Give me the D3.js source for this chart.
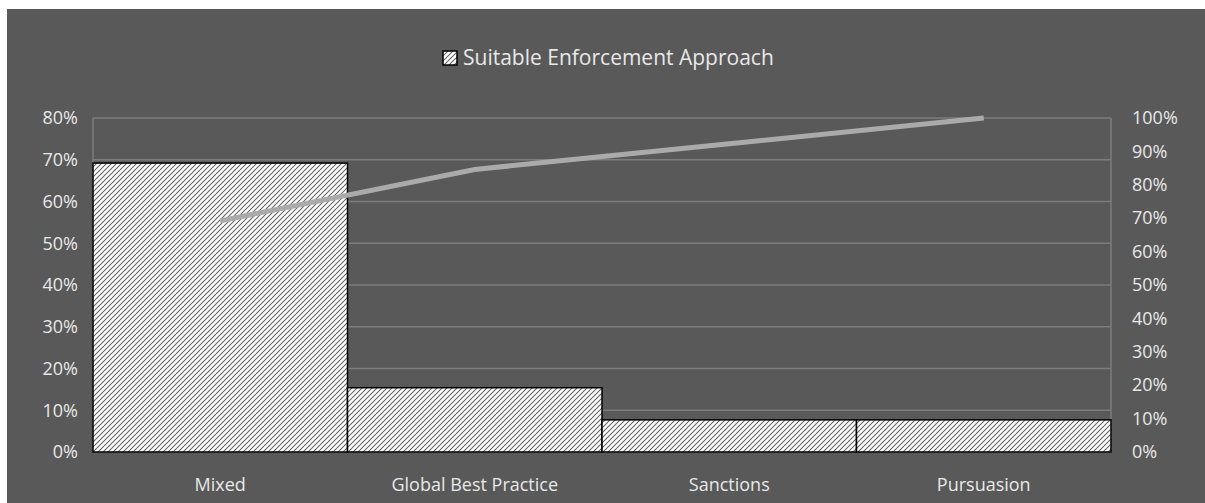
<!DOCTYPE html>
<html>
<head>
  <script src="https://d3js.org/d3.v7.min.js"></script>
  <style>
    body { margin: 0; background: #fff; }
    text { font-family: "Open Sans", sans-serif; fill: #e8e8e8; }
  </style>
</head>
<body>
  <svg id="canvas" width="1205" height="503"></svg>
  <script>
    const categories = ["Mixed", "Global Best Practice", "Sanctions", "Pursuasion"];
    const shares = [0.692, 0.154, 0.077, 0.077];
    const cumulative = [0.692, 0.846, 0.923, 1.0];
    const leftTicks = [0, 0.1, 0.2, 0.3, 0.4, 0.5, 0.6, 0.7, 0.8];
    const rightTicks = [0, 0.1, 0.2, 0.3, 0.4, 0.5, 0.6, 0.7, 0.8, 0.9, 1.0];
    const seriesName = "Suitable Enforcement Approach";

    const svg = d3.select("#canvas");
    const plotLeft = 93, plotRight = 1111, plotTop = 118, plotBottom = 452;

    // chart background
    svg.append("rect").attr("x", 7).attr("y", 9)
      .attr("width", 1198).attr("height", 494).attr("fill", "#595959");

    // hatch pattern
    const pat = svg.append("defs").append("pattern")
      .attr("id", "hatch").attr("patternUnits", "userSpaceOnUse")
      .attr("width", 5).attr("height", 5);
    pat.append("rect").attr("width", 5).attr("height", 5).attr("fill", "#fff");
    pat.append("path").attr("d", "M-1,1 L1,-1 M0,5 L5,0 M4,6 L6,4")
      .attr("stroke", "#666").attr("stroke-width", 1.1);

    const x = d3.scaleBand().domain(categories).range([plotLeft, plotRight]).padding(0);
    const y = d3.scaleLinear().domain([0, 0.8]).range([plotBottom, plotTop]);
    const y2 = d3.scaleLinear().domain([0, 1]).range([plotBottom, plotTop]);
    const pct = d3.format(".0%");

    // gridlines
    svg.append("g").selectAll("line").data(leftTicks).join("line")
      .attr("x1", plotLeft).attr("x2", plotRight)
      .attr("y1", d => y(d)).attr("y2", d => y(d))
      .attr("stroke", "#7d7d7d").attr("stroke-width", 1.5);
    svg.append("g").selectAll("line").data([plotLeft, plotRight]).join("line")
      .attr("x1", d => d).attr("x2", d => d)
      .attr("y1", plotTop).attr("y2", plotBottom)
      .attr("stroke", "#7d7d7d").attr("stroke-width", 1.5);

    // bars
    svg.append("g").selectAll("rect").data(shares).join("rect")
      .attr("x", (d, i) => x(categories[i]))
      .attr("y", d => y(d))
      .attr("width", x.bandwidth())
      .attr("height", d => plotBottom - y(d))
      .attr("fill", "url(#hatch)")
      .attr("stroke", "#000").attr("stroke-width", 1.5);

    // cumulative line
    svg.append("path").datum(cumulative)
      .attr("d", d3.line()
        .x((d, i) => x(categories[i]) + x.bandwidth() / 2)
        .y(d => y2(d)))
      .attr("fill", "none").attr("stroke", "#aaaaaa")
      .attr("stroke-width", 5);

    // axes
    const yAxis = svg.append("g").attr("transform", `translate(${plotLeft},0)`)
      .call(d3.axisLeft(y).tickValues(leftTicks).tickFormat(pct).tickSize(0).tickPadding(15));
    const y2Axis = svg.append("g").attr("transform", `translate(${plotRight},0)`)
      .call(d3.axisRight(y2).tickValues(rightTicks).tickFormat(pct).tickSize(0).tickPadding(21));
    const xAxis = svg.append("g").attr("transform", `translate(0,${plotBottom})`)
      .call(d3.axisBottom(x).tickSize(0).tickPadding(26));
    [yAxis, y2Axis, xAxis].forEach(a => {
      a.select(".domain").remove();
      a.selectAll("text").attr("font-size", 18).attr("fill", "#e8e8e8")
        .style("font-family", "'Open Sans', sans-serif");
    });

    // legend
    const lg = svg.append("g").attr("transform", "translate(443,51)");
    lg.append("rect").attr("width", 14).attr("height", 14)
      .attr("fill", "url(#hatch)").attr("stroke", "#000").attr("stroke-width", 1.5);
    lg.append("text").attr("x", 20).attr("y", 14).attr("font-size", 21).text(seriesName);
  </script>
</body>
</html>
